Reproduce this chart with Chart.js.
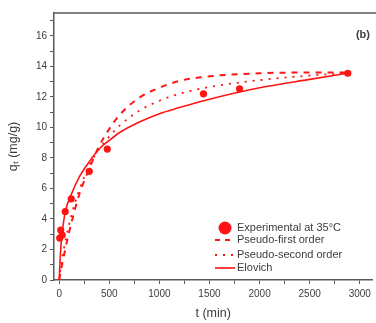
<!DOCTYPE html>
<html>
<head>
<meta charset="utf-8">
<script src="https://cdn.jsdelivr.net/npm/chart.js@4.4.1/dist/chart.umd.min.js"></script>
<style>
  html, body { margin: 0; padding: 0; background: #fff; }
  #wrap { width: 376px; height: 323px; }
</style>
</head>
<body>
<div id="wrap"><canvas id="kinetics"></canvas></div>
<script>
// experimental points (t in min, q_t in mg/g)
const expTime = [5, 15, 30, 60, 120, 300, 480, 1440, 1800, 2880];
const expQ = [2.75, 3.27, 2.95, 4.49, 5.32, 7.12, 8.58, 12.2, 12.53, 13.55];

// fitted curves on a shared time grid
const fitTime = [0, 5, 15, 30, 60, 120, 200, 300, 400, 500, 600, 800, 1000, 1200, 1500, 2000, 2500, 2880];
const firstOrderQ = [0, 0.2, 0.55, 1.05, 2.0, 3.7, 5.6, 7.3, 8.8, 9.9, 10.8, 11.95, 12.6, 13.05, 13.35, 13.55, 13.6, 13.6];
const secondOrderQ = [0, 0.3, 0.8, 1.4, 2.5, 4.2, 5.9, 7.5, 8.6, 9.4, 10.1, 11.1, 11.75, 12.2, 12.65, 13.1, 13.4, 13.55];
const elovichQ = [0, 0.8, 2.0, 3.1, 4.45, 5.6, 6.75, 7.75, 8.6, 9.15, 9.65, 10.35, 10.9, 11.3, 11.85, 12.6, 13.15, 13.55];

const labels = ["Experimental at 35°C", "Pseudo-first order", "Pseudo-second order", "Elovich"];
const xTicks = [0, 500, 1000, 1500, 2000, 2500, 3000];
const yTicks = [0, 2, 4, 6, 8, 10, 12, 14, 16];

const red = "#ff1414";
const axisColor = "#5a5a5a";
const textColor = "#3c3c3c";
const font = "'Liberation Sans', Arial, sans-serif";

const pairs = (xs, ys) => xs.map((x, i) => ({ x, y: ys[i] }));

const curve = (label, data, dash, width) => ({
  label, data, showLine: true, pointRadius: 0, borderColor: red, borderWidth: width,
  borderDash: dash, cubicInterpolationMode: "monotone", fill: false
});

// the plot runs off the right edge of the picture, so the last tick label
// must not pull the plot area in
const noRightPad = {
  id: "noRightPad",
  beforeLayout(chart) {
    const s = chart.scales.x;
    if (s) s.getPadding = () => ({ left: s.paddingLeft || 0, top: 0, right: 0, bottom: 0 });
  }
};

const frame = {
  id: "frame",
  afterDraw(chart) {
    const { ctx, chartArea: a } = chart;
    ctx.save();
    ctx.strokeStyle = axisColor;
    ctx.lineWidth = 1.5;
    ctx.beginPath();
    ctx.moveTo(a.left, a.top);
    ctx.lineTo(chart.width, a.top);
    ctx.stroke();

    ctx.fillStyle = textColor;
    ctx.font = "bold 11px " + font;
    ctx.textAlign = "right";
    ctx.textBaseline = "middle";
    ctx.fillText("(b)", a.left + 316, a.top + 22);

    // legend, lower right of the plot
    const x0 = a.left + 161, x1 = a.left + 181, tx = a.left + 183;
    const rows = [a.top + 215, a.top + 227, a.top + 242, a.top + 255];
    const sets = chart.data.datasets;
    ctx.textAlign = "left";
    ctx.font = "11px " + font;
    rows.forEach((y, i) => {
      const ds = sets[i];
      ctx.strokeStyle = red;
      ctx.fillStyle = red;
      if (i === 0) {
        ctx.beginPath();
        ctx.arc((x0 + x1) / 2, y, 6.5, 0, Math.PI * 2);
        ctx.fill();
      } else {
        ctx.lineWidth = ds.borderWidth;
        ctx.setLineDash(i === 1 ? [5, 5] : ds.borderDash);
        ctx.beginPath();
        ctx.moveTo(x0, y);
        ctx.lineTo(x1, y);
        ctx.stroke();
        ctx.setLineDash([]);
      }
      ctx.fillStyle = textColor;
      ctx.fillText(labels[i], tx, y);
    });
    ctx.restore();
  }
};

new Chart(document.getElementById("kinetics"), {
  type: "scatter",
  data: {
    datasets: [
      { label: labels[0], data: pairs(expTime, expQ), pointRadius: 3.6, pointHoverRadius: 3.6, backgroundColor: red, borderColor: red, borderWidth: 0 },
      curve(labels[1], pairs(fitTime, firstOrderQ), [6, 6], 2),
      curve(labels[2], pairs(fitTime, secondOrderQ), [2, 6], 1.8),
      curve(labels[3], pairs(fitTime, elovichQ), [], 1.6)
    ]
  },
  options: {
    responsive: true,
    maintainAspectRatio: false,
    animation: false,
    layout: { padding: { top: 13, right: 0, bottom: 0, left: 0 } },
    plugins: { legend: { display: false }, tooltip: { enabled: false } },
    scales: {
      x: {
        type: "linear", min: -52, max: 3126,
        afterFit: scale => { scale.height = 43; scale.paddingRight = 0; },
        border: { display: true, color: axisColor, width: 1.5 },
        grid: { drawOnChartArea: false, drawTicks: true, tickLength: 4, color: axisColor, tickColor: axisColor },
        ticks: {
          stepSize: 250, includeBounds: false, maxRotation: 0, autoSkip: false, padding: 4,
          color: textColor, font: { family: font, size: 10 },
          callback: v => xTicks.includes(v) ? String(v) : ""
        },
        title: { display: true, text: "t (min)", color: textColor, font: { family: font, size: 12.5 }, padding: { top: 0, bottom: 2 } }
      },
      y: {
        type: "linear", min: 0, max: 17.5,
        afterFit: scale => { scale.width = 54; },
        border: { display: true, color: axisColor, width: 1.5 },
        grid: { drawOnChartArea: false, drawTicks: true, tickLength: 4, color: axisColor, tickColor: axisColor },
        ticks: {
          stepSize: 1, includeBounds: false, autoSkip: false, padding: 3,
          color: textColor, font: { family: font, size: 10 },
          callback: v => yTicks.includes(v) ? String(v) : ""
        },
        title: { display: true, text: "qₜ (mg/g)", color: textColor, font: { family: font, size: 12.5 }, padding: { top: 6, bottom: 0 } }
      }
    }
  },
  plugins: [noRightPad, frame]
});
</script>
</body>
</html>
